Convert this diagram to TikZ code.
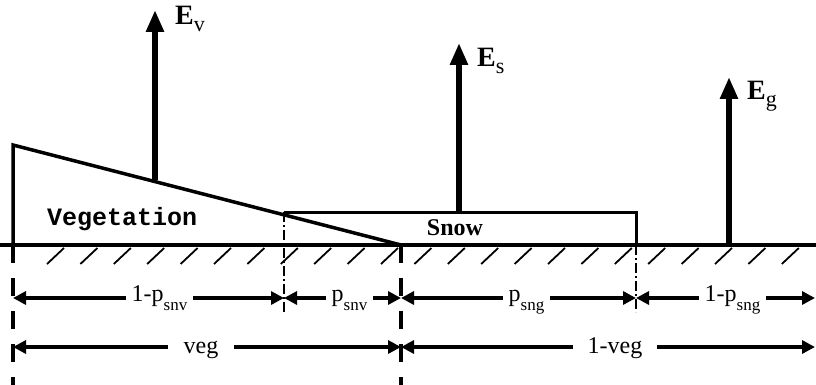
\documentclass[tikz,border=0pt]{standalone}
\usepackage{fontspec}
\setmainfont{Liberation Serif}
\setmonofont{Liberation Mono}
\usetikzlibrary{arrows.meta}
\newcommand{\esub}[1]{{\mdseries\fontsize{22}{22}\selectfont\raisebox{-7pt}{#1}}}
\newcommand{\dsub}[1]{{\fontsize{17}{17}\selectfont\raisebox{-9pt}{#1}}}

\begin{document}
\begin{tikzpicture}[x=1pt,y=-1pt,
  gnd/.style={line width=4pt},
  flux/.style={-{Triangle[length=22pt,width=17pt]},line width=6pt},
  dim/.style={{Triangle[length=13pt,width=13pt]}-{Triangle[length=13pt,width=13pt]},line width=4.5pt},
  dimlab/.style={fill=white,inner xsep=6pt,inner ysep=2pt,anchor=base,yshift=-3pt,font=\fontsize{24}{26}\selectfont},
  elab/.style={anchor=base west,inner sep=0pt,font=\bfseries\fontsize{28}{30}\selectfont},
  bnd/.style={line width=4pt,dash pattern=on 18pt off 15pt},
  part/.style={line width=1.5pt,dash pattern=on 10pt off 3pt on 2pt off 3pt}]
\useasboundingbox (0,0) rectangle (816,385);
% ground and hatching
\coordinate (g0) at (0,245);\coordinate (g1) at (816,245);
\draw[gnd] (g0) -- (g1);
\foreach \i in {0,...,22} \draw[line width=1.8pt] (47+33.4*\i,264) -- ++(17,-16);
% vegetation wedge and snow layer
\coordinate (vtop) at (13,145);\coordinate (vend) at (401,245);
\draw[line width=3.5pt] (13,245) -- (vtop) -- (vend);
\draw[line width=3pt] (284,212) -- (636,212) -- (636,245);
\node[anchor=base west,inner sep=0pt,font=\ttfamily\bfseries\fontsize{25}{25}\selectfont] (vegtxt) at (47,225) {Vegetation};
\node[anchor=base,inner sep=0pt,font=\bfseries\fontsize{24}{24}\selectfont] (snowtxt) at (455,235) {Snow};
% fluxes
\coordinate (ev0) at (155,180);\coordinate (ev1) at (155,10);
\coordinate (es0) at (459,212);\coordinate (es1) at (459,43);
\coordinate (eg0) at (729,245);\coordinate (eg1) at (729,77);
\draw[flux] (ev0) -- (ev1);\draw[flux] (es0) -- (es1);\draw[flux] (eg0) -- (eg1);
\node[elab] (ev) at (175,25) {E\esub{v}};
\node[elab] (es) at (477,67) {E\esub{s}};
\node[elab] (eg) at (747,100) {E\esub{g}};
% partition lines
\draw[bnd] (13,245) -- (13,385);\draw[bnd] (401,245) -- (401,385);
\draw[part] (284,212) -- (284,312);\draw[part] (636,245) -- (636,312);
% dimensions
\coordinate (a0) at (13,298);\coordinate (a1) at (284,298);\coordinate (a2) at (401,298);
\coordinate (a3) at (636,298);\coordinate (a4) at (815,298);
\coordinate (b0) at (13,347);\coordinate (b1) at (401,347);\coordinate (b2) at (815,347);
\draw[dim] (a0) -- node[dimlab,xshift=11pt] (l1) {1-p\dsub{snv}} (a1);
\draw[dim] (a1) -- node[dimlab,xshift=7pt] (l2) {p\dsub{snv}} (a2);
\draw[dim] (a2) -- node[dimlab,xshift=8pt] (l3) {p\dsub{sng}} (a3);
\draw[dim] (a3) -- node[dimlab,xshift=7pt] (l4) {1-p\dsub{sng}} (a4);
\draw[dim] (b0) -- node[dimlab,inner xsep=16pt,yshift=-3pt,xshift=-6pt] (l5) {veg} (b1);
\draw[dim] (b1) -- node[dimlab,inner xsep=15pt,yshift=-3pt,xshift=7pt] (l6) {1-veg} (b2);
\end{tikzpicture}
\end{document}
